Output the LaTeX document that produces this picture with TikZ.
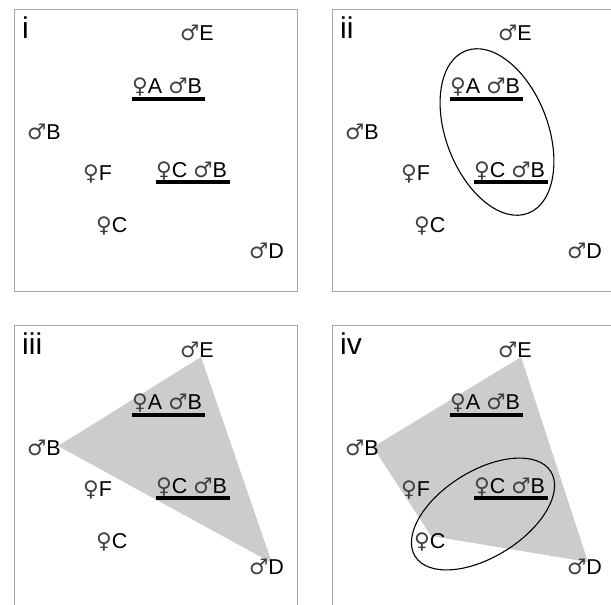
\documentclass[tikz,border=0pt]{standalone}
\usepackage{fontspec}
\setmainfont{Liberation Sans}
\newfontfamily\symfont{DejaVu Sans}
\newcommand{\sfem}{{\symfont\color{black!75}♀}}
\newcommand{\smal}{{\symfont\color{black!75}♂}}
\begin{document}
\begin{tikzpicture}[x=1pt,y=-1pt,
  lab/.style={anchor=base west,inner sep=0pt,font=\fontsize{21.5}{24}\selectfont},
  num/.style={anchor=base west,inner sep=0pt,font=\fontsize{30}{32}\selectfont},
  bar/.style={line width=3.6pt},
  frame/.style={draw=gray!70,line width=1pt},
  hull/.style={fill=black!20},
  ring/.style={draw,line width=1.1pt}]
  \useasboundingbox (0,0) rectangle (611,605);
  \clip (0,0) rectangle (611,605);
  % Panel frames
  \draw[frame] (14,9) rectangle (297,291);
  \draw[frame] (332,9) rectangle (630,291);
  \draw[frame] (14,325) rectangle (297,630);
  \draw[frame] (332,325) rectangle (630,630);
  % Shaded hulls (iii and iv)
  \begin{scope}[shift={(0,316)}]
    \fill[hull] (58,130) -- (201,41) -- (272,247) -- cycle;
  \end{scope}
  \begin{scope}[shift={(318,316)}]
    \fill[hull] (55,131) -- (203,41) -- (270,246) -- (113,220) -- cycle;
  \end{scope}
  % Labels, same in every panel
  \foreach \p/\dx/\dy/\r in {1/0/0/i, 2/318/0/ii, 3/0/316/iii, 4/318/316/iv} {
    \begin{scope}[shift={(\dx,\dy)}]
      \node[num] (num\p) at (22,38) {\r};
      \node[lab] (E\p) at (180,41) {\smal E};
      \node[lab] (AB\p) at (132,93) {\sfem A \smal B};
      \node[lab] (B\p) at (27,139) {\smal B};
      \node[lab] (F\p) at (83,180) {\sfem F};
      \node[lab] (CB\p) at (156,177) {\sfem C \smal B};
      \node[lab] (C\p) at (96,232) {\sfem C};
      \node[lab] (D\p) at (249,258) {\smal D};
      % underlined pairs
      \draw[bar] ([yshift=-6pt]AB\p.base west) -- ([xshift=3pt,yshift=-6pt]AB\p.base east);
      \draw[bar] ([yshift=-5pt]CB\p.base west) -- ([xshift=3pt,yshift=-5pt]CB\p.base east);
    \end{scope}
  }
  % Ellipses (ii and iv)
  \begin{scope}[shift={(318,0)}]
    \draw[ring,rotate around={21:(179,132)}] (179,132) ellipse [x radius=51, y radius=87];
  \end{scope}
  \begin{scope}[shift={(318,316)}]
    \draw[ring,rotate around={32:(165,198)}] (165,198) ellipse [x radius=80, y radius=43];
  \end{scope}
\end{tikzpicture}
\end{document}
